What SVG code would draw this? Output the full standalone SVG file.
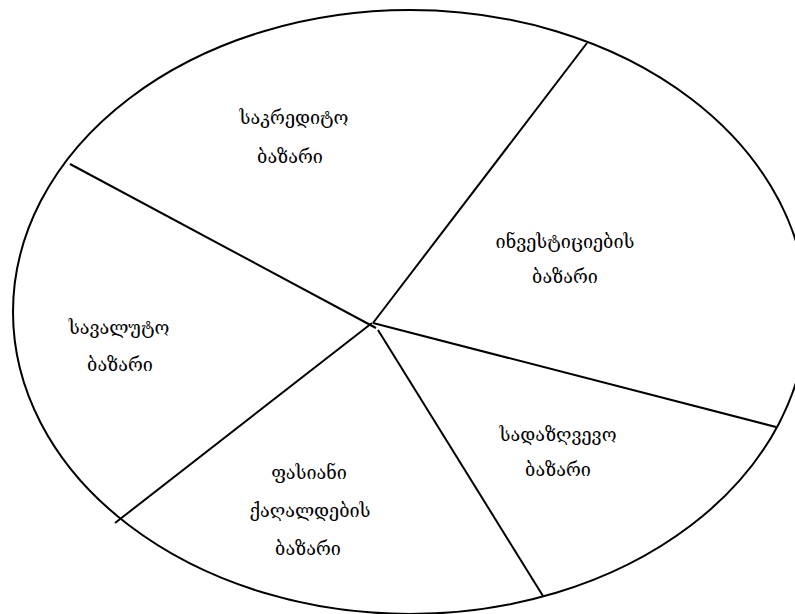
<svg xmlns="http://www.w3.org/2000/svg" width="795" height="614" viewBox="0 0 795 614">
<style>
.lbl{font-family:"DejaVu Serif","DejaVu Sans","Noto Sans",serif;font-size:18px;fill:#000;text-anchor:middle}
.ln{stroke:#000;stroke-width:2;fill:none}
</style>
<rect width="795" height="614" fill="#fff"/>
<g id="outline"><ellipse class="ln" cx="410" cy="312" rx="397" ry="302"/></g>
<g id="connectors">
<line class="ln" x1="373" y1="323" x2="587" y2="43"/>
<line class="ln" x1="70" y1="164" x2="376" y2="328"/>
<line class="ln" x1="372" y1="323" x2="115" y2="523"/>
<line class="ln" x1="378" y1="330" x2="543" y2="596"/>
<line class="ln" x1="373" y1="323" x2="776" y2="427"/>
</g>
<g id="credit"><text class="lbl" x="294" y="124">საკრედიტო</text><text class="lbl" x="290" y="163">ბაზარი</text></g>
<g id="investment"><text class="lbl" x="565" y="248">ინვესტიციების</text><text class="lbl" x="565" y="283">ბაზარი</text></g>
<g id="currency"><text class="lbl" x="119" y="334">სავალუტო</text><text class="lbl" x="120" y="371">ბაზარი</text></g>
<g id="insurance"><text class="lbl" x="558" y="441">სადაზღვევო</text><text class="lbl" x="558" y="476">ბაზარი</text></g>
<g id="securities"><text class="lbl" x="309" y="479">ფასიანი</text><text class="lbl" x="310" y="517">ქაღალდების</text><text class="lbl" x="308" y="555">ბაზარი</text></g>
</svg>
